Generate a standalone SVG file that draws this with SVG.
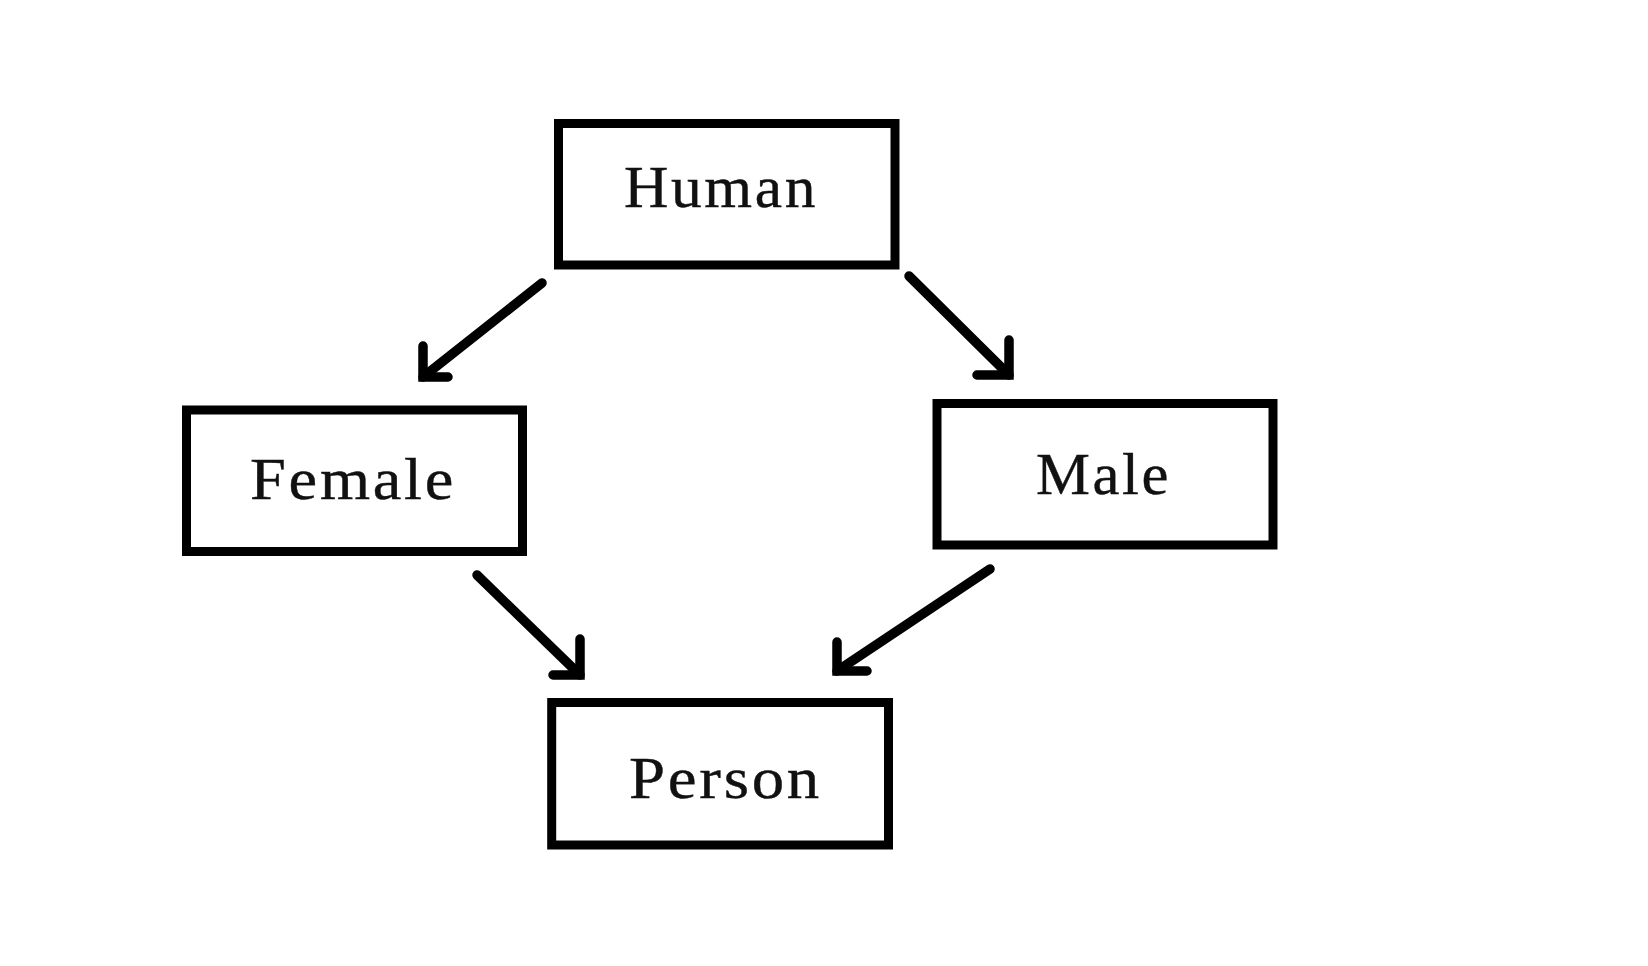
<svg xmlns="http://www.w3.org/2000/svg" width="1648" height="966" viewBox="0 0 1648 966">
  <style>
    .box { fill: #ffffff; stroke: #000000; stroke-width: 9; }
    .lbl { font-family: "Liberation Serif", "Times New Roman", serif; font-size: 59px; letter-spacing: 2.5px; fill: #111111; stroke: #111111; stroke-width: 0.4; }
    .edge { fill: none; stroke: #000000; stroke-width: 9.5; stroke-linecap: round; stroke-linejoin: miter; }
  </style>
  <rect x="0" y="0" width="1648" height="966" fill="#ffffff"/>
  <g id="connectors">
    <g id="human-female">
      <path class="edge" d="M542,283 L423,377"/>
      <path class="edge" d="M423,346 L423,377 L448,377"/>
    </g>
    <g id="human-male">
      <path class="edge" d="M909,276 L1009,375"/>
      <path class="edge" d="M1009,340 L1009,375 L977,375"/>
    </g>
    <g id="female-person">
      <path class="edge" d="M477,575 L580,675"/>
      <path class="edge" d="M580,639 L580,675 L553,675"/>
    </g>
    <g id="male-person">
      <path class="edge" d="M990,569 L837,671"/>
      <path class="edge" d="M837,642 L837,671 L867,671"/>
    </g>
  </g>
  <g id="human">
    <rect class="box" x="558.5" y="123.5" width="336.5" height="141.5"/>
    <text class="lbl" x="624" y="207" textLength="194" lengthAdjust="spacingAndGlyphs">Human</text>
  </g>
  <g id="female">
    <rect class="box" x="186.5" y="410" width="336" height="141.5"/>
    <text class="lbl" x="250" y="499" textLength="206" lengthAdjust="spacingAndGlyphs">Female</text>
  </g>
  <g id="male">
    <rect class="box" x="937" y="403.5" width="336" height="141.5"/>
    <text class="lbl" x="1036" y="494" textLength="135" lengthAdjust="spacingAndGlyphs">Male</text>
  </g>
  <g id="person">
    <rect class="box" x="551.7" y="702.5" width="336.8" height="142.5"/>
    <text class="lbl" x="629" y="798" textLength="193" lengthAdjust="spacingAndGlyphs">Person</text>
  </g>
</svg>
